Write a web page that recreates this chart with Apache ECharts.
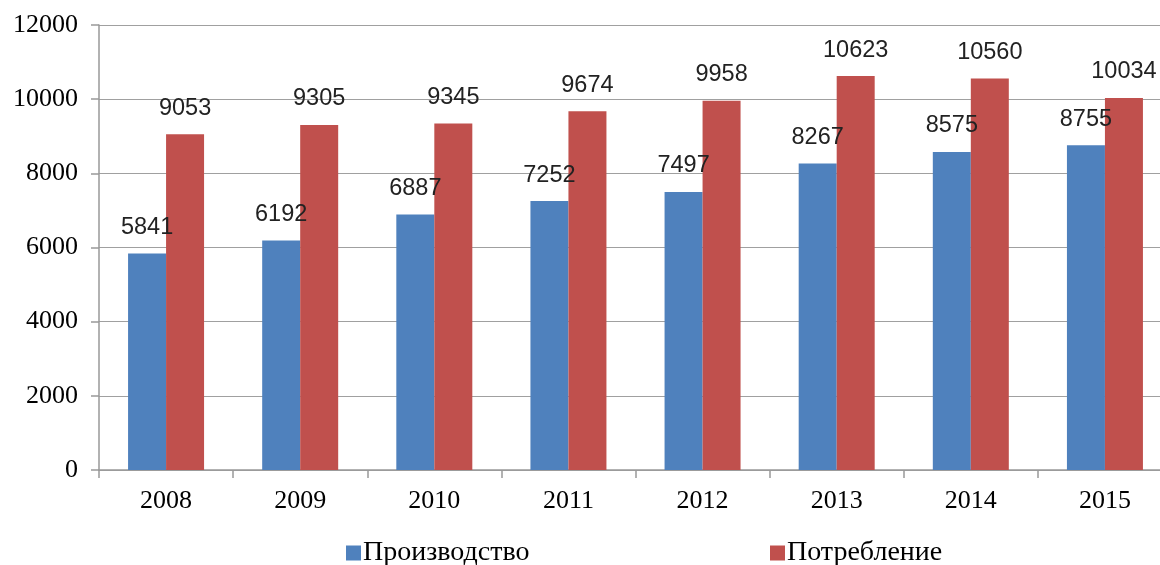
<!DOCTYPE html>
<html><head><meta charset="utf-8">
<script src="https://cdn.jsdelivr.net/npm/echarts@6/dist/echarts.min.js"></script>
<style>html,body{margin:0;padding:0;background:#fff;overflow:hidden;width:1160px;height:565px}#c{width:1172px;height:565px}</style>
</head><body><div id="c"></div>
<script>
const years = ['2008','2009','2010','2011','2012','2013','2014','2015'];
const production = [5841,6192,6887,7252,7497,8267,8575,8755];
const consumption = [9053,9305,9345,9674,9958,10623,10560,10034];
const seriesNames = ['Производство','Потребление'];
const colors = ['#4f81bd','#c0504d'];

const serif = 'Liberation Serif, Times New Roman, serif';
const chart = echarts.init(document.getElementById('c'));
const labelStyle = {show:true, position:'top', distance:14, fontFamily:'Liberation Sans, Arial, sans-serif', fontSize:23.5, color:'#222'};
const legendText = {fontFamily:serif, fontSize:28, color:'#000', padding:[0,0,0,-3]};
chart.setOption({
  animation:false,
  grid:{left:99, right:0, top:25, height:445},
  legend:[
    {data:[seriesNames[0]], top:534, left:341, itemWidth:15, itemHeight:15, icon:'rect', textStyle:legendText},
    {data:[seriesNames[1]], top:534, left:765, itemWidth:15, itemHeight:15, icon:'rect', textStyle:legendText}
  ],
  xAxis:{
    type:'category', data:years,
    axisLine:{lineStyle:{color:'#999', width:1.5}},
    axisTick:{show:true, length:8, alignWithLabel:false, lineStyle:{color:'#999', width:1.5}},
    axisLabel:{fontFamily:serif, fontSize:26, color:'#000', margin:18}
  },
  yAxis:{
    type:'value', min:0, max:12000, interval:2000,
    axisLine:{show:true, lineStyle:{color:'#999', width:1.5}},
    axisTick:{show:true, length:8, lineStyle:{color:'#999', width:1.5}},
    splitLine:{lineStyle:{color:'#a0a0a0', width:1.2}},
    axisLabel:{fontFamily:serif, fontSize:26, color:'#000', margin:21, formatter:v=>String(v)}
  },
  series:[
    {name:seriesNames[0], type:'bar', data:production, barWidth:38, barGap:'0%', itemStyle:{color:colors[0]}, label:labelStyle},
    {name:seriesNames[1], type:'bar', data:consumption, barWidth:38, barGap:'0%', itemStyle:{color:colors[1]}, label:labelStyle}
  ]
});
</script></body></html>
